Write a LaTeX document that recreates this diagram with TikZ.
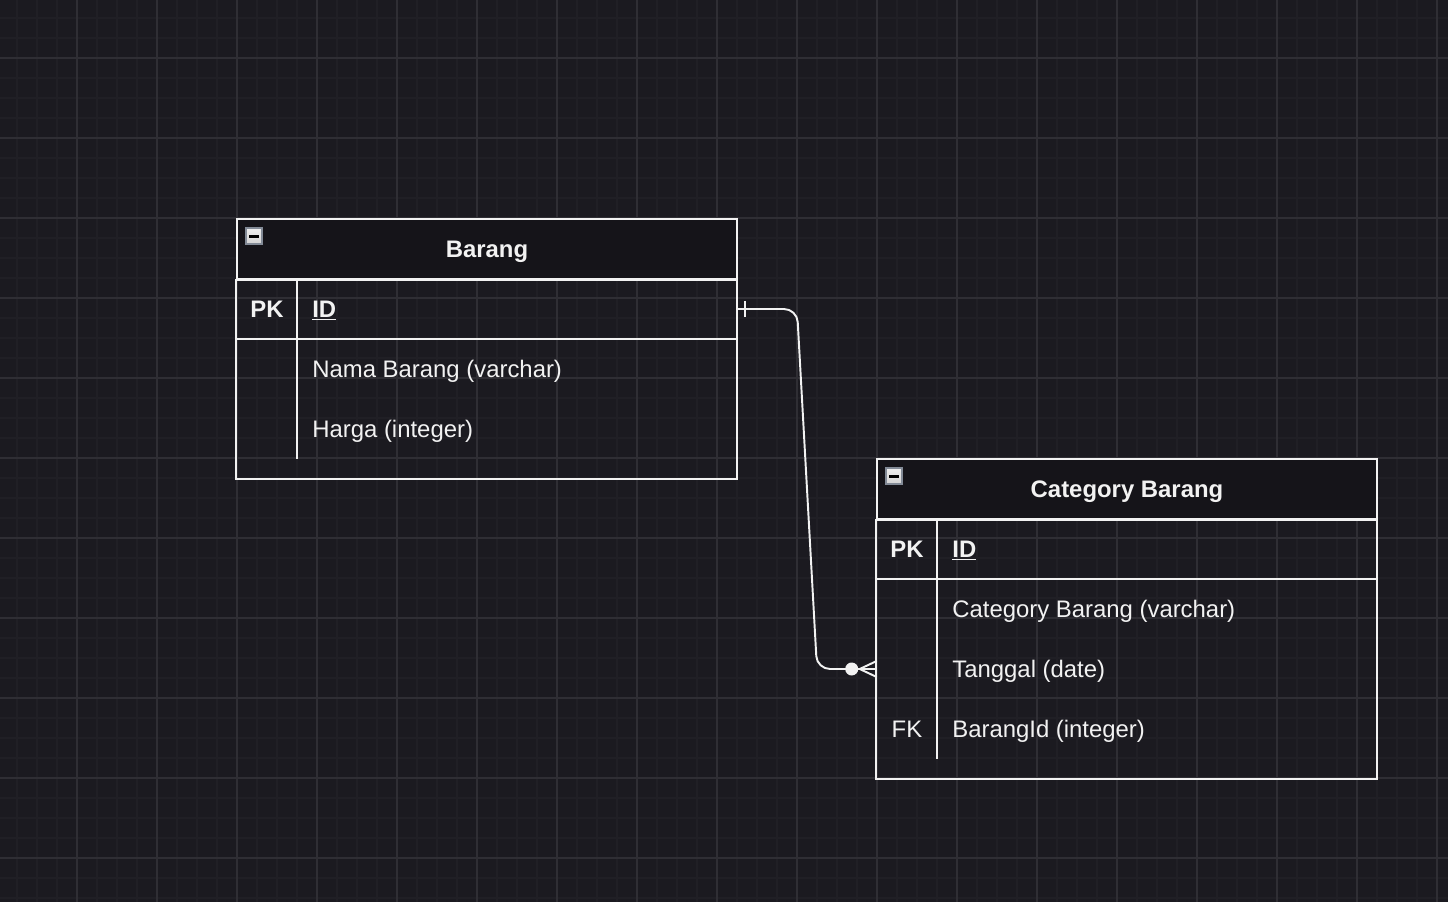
\documentclass[tikz,border=0pt]{standalone}
\usepackage{fontspec}
\setmainfont{Liberation Sans}
\definecolor{canvas}{RGB}{27,26,32}
\definecolor{minorline}{RGB}{32,31,37}
\definecolor{majorline}{RGB}{47,46,52}
\definecolor{headfill}{RGB}{21,20,25}
\definecolor{ink}{RGB}{242,242,242}
\definecolor{iconrim}{RGB}{130,138,150}
\newcommand{\cellfont}{\fontsize{13.6}{16}\selectfont}
\begin{document}
\begin{tikzpicture}[x=0.02cm, y=-0.02cm,
    frame/.style={draw=ink, line width=1.1pt},
    hdr/.style={frame, fill=headfill, minimum width=10cm, minimum height=1.2cm,
      inner sep=0pt, font=\cellfont\bfseries, text=ink, text height=1em, text depth=0pt},
    rowbox/.style={minimum width=10cm, minimum height=1.2cm, inner sep=0pt},
    keytext/.style={text=ink, inner sep=0pt, text height=0.93em, text depth=0pt, font=\cellfont},
    fieldtext/.style={keytext, anchor=west},
    link/.style={draw=ink, line width=1.1pt}]
  \useasboundingbox (0,0) rectangle (1448,902);
  \fill[canvas] (0,0) rectangle (1448,902);
  \foreach \x in {17,37,...,1447}
    \draw[minorline, line width=0.6pt] (\x,0) -- (\x,902);
  \foreach \y in {18,38,...,898}
    \draw[minorline, line width=0.6pt] (0,\y) -- (1448,\y);
  \foreach \x in {77,157,...,1447}
    \draw[majorline, line width=0.6pt] (\x,0) -- (\x,902);
  \foreach \y in {58,138,...,898}
    \draw[majorline, line width=0.6pt] (0,\y) -- (1448,\y);

  \node[hdr] (barang) at (487,249) {Barang};
  \node[rowbox] (barangid) at (487,309) {};
  \draw[frame] (barang.south west) rectangle (737,479);
  \draw[frame] (barangid.south west) -- (barangid.south east);
  \draw[frame] (297,279) -- (297,459);
  \node[keytext, font=\cellfont\bfseries] (barangpk) at (267,309) {PK};
  \node[fieldtext, font=\cellfont\bfseries] (barangidtext) at (312,309) {\underline{ID}};
  \node[fieldtext] (barangnama) at (312,369) {Nama Barang (varchar)};
  \node[fieldtext] (barangharga) at (312,429) {Harga (integer)};

  \node[hdr] (category) at (1127,489) {Category Barang};
  \node[rowbox] (categoryid) at (1127,549) {};
  \node[rowbox] (tanggal) at (1127,669) {};
  \draw[frame] (category.south west) rectangle (1377,779);
  \draw[frame] (categoryid.south west) -- (categoryid.south east);
  \draw[frame] (937,519) -- (937,759);
  \node[keytext, font=\cellfont\bfseries] (categorypk) at (907,549) {PK};
  \node[fieldtext, font=\cellfont\bfseries] (categoryidtext) at (952,549) {\underline{ID}};
  \node[fieldtext] (categorynama) at (952,609) {Category Barang (varchar)};
  \node[fieldtext] (tanggaltext) at (952,669) {Tanggal (date)};
  \node[keytext] (categoryfk) at (907,729) {FK};
  \node[fieldtext] (barangidfk) at (952,729) {BarangId (integer)};

  \foreach \t in {barang, category} {
    \draw[iconrim, line width=1pt, top color=white, bottom color=gray!35]
      (\t.north west) ++(10,10) rectangle ++(16,16);
    \fill[black] (\t.north west) ++(13,17) rectangle ++(10,2.5);
  }

  \coordinate (bend1) at (797,309);
  \coordinate (bend2) at (817,669);
  \draw[link, rounded corners=0.26cm] (barangid.east) -- (bend1) -- (bend2) -- (tanggal.west);
  \draw[link] (barangid.east) ++(8,-8) -- ++(0,16);
  \fill[ink] (tanggal.west) ++(-25,0) circle[radius=0.13cm];
  \draw[link] (tanggal.west) ++(-17,0) -- ++(17,-8);
  \draw[link] (tanggal.west) ++(-17,0) -- ++(17,8);
\end{tikzpicture}
\end{document}
